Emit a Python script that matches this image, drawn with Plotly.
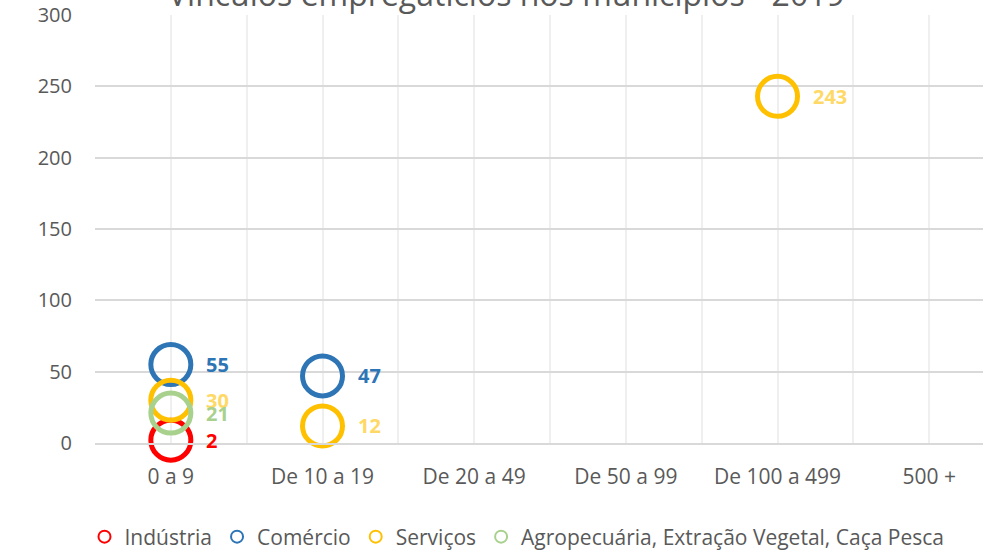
import plotly.graph_objects as go

categories = ["0 a 9", "De 10 a 19", "De 20 a 49", "De 50 a 99", "De 100 a 499", "500 +"]
series_names = ["Indústria", "Comércio", "Serviços", "Agropecuária, Extração Vegetal, Caça Pesca"]
industria = [2, None, None, None, None, None]
comercio = [55, 47, None, None, None, None]
servicos = [30, 12, None, None, 243, None]
agro = [21, None, None, None, None, None]
y_ticks = [0, 50, 100, 150, 200, 250, 300]
title_text = "Vínculos empregatícios nos municípios - 2019"

marker_colors = ["#FF0000", "#2E75B6", "#FFC000", "#A9D18E"]
label_colors = ["#FF0000", "#2E75B6", "#FFD966", "#A9D18E"]
all_series = [industria, comercio, servicos, agro]

L, T = 95, 15
PLOT_W = 983 - L
PLOT_H = 428
CAT_W = 151.67

FONT = "Open Sans"
fig = go.Figure()
xs = list(range(len(categories)))
annotations = []
for name, vals, mc, lc in zip(series_names, all_series, marker_colors, label_colors):
    fig.add_trace(go.Scatter(
        x=xs, y=vals, mode="markers", name=name, cliponaxis=False,
        marker=dict(symbol="circle-open", size=40, color=mc, line=dict(width=5, color=mc)),
        hoverinfo="skip",
    ))
    for xi, v in zip(xs, vals):
        if v is not None:
            annotations.append(dict(
                x=xi, y=v, xref="x", yref="y", text=f"<b>{v}</b>", showarrow=False,
                xanchor="left", yanchor="middle", xshift=33,
                font=dict(family=FONT, size=20, color=lc),
            ))

annotations.append(dict(
    x=(506 - L) / PLOT_W, y=1 + (T + 7) / PLOT_H, xref="paper", yref="paper",
    text=title_text, showarrow=False,
    font=dict(family=FONT, size=32, color="#595959"), xanchor="center", yanchor="middle",
))

fig.update_layout(
    width=983, height=550,
    margin=dict(l=L, r=0, t=T, b=550 - T - PLOT_H, autoexpand=False),
    paper_bgcolor="white", plot_bgcolor="white",
    font=dict(family=FONT, color="#595959"),
    showlegend=True,
    legend=dict(
        orientation="h", x=517 / 983, xref="container", xanchor="center",
        y=(550 - 537) / 550, yref="container", yanchor="middle",
        font=dict(family=FONT, size=21, color="#595959"),
        itemsizing="constant", itemwidth=30, traceorder="normal",
    ),
    annotations=annotations,
    xaxis=dict(
        range=[-0.5, -0.5 + PLOT_W / CAT_W], automargin=False,
        tickvals=xs, ticktext=categories,
        showgrid=True, gridcolor="#EFEFEF", gridwidth=1.5,
        minor=dict(tickvals=[i - 0.5 for i in xs], showgrid=True, gridcolor="#EFEFEF", gridwidth=1.5),
        zeroline=False, showline=True, linecolor="#D9D9D9", linewidth=2,
        ticks="", ticklabelstandoff=14,
        tickfont=dict(family=FONT, size=21, color="#595959"),
    ),
    yaxis=dict(
        range=[0, 300], tickvals=y_ticks, automargin=False,
        showgrid=True, gridcolor="#D9D9D9", gridwidth=2,
        zeroline=False, showline=False,
        ticks="", ticklabelstandoff=22,
        tickfont=dict(family=FONT, size=20, color="#595959"),
    ),
)

fig.write_html("out.html", config={"displayModeBar": False},
               post_script="document.body.style.margin='0';")
